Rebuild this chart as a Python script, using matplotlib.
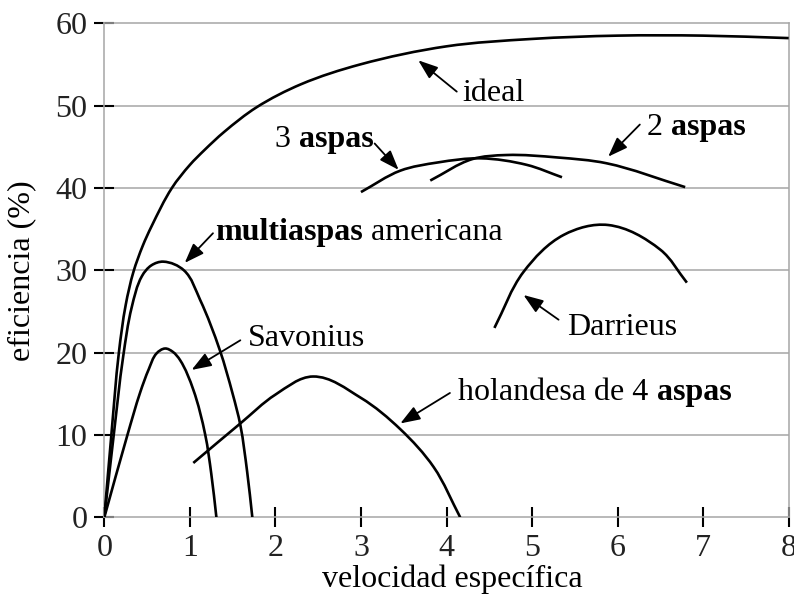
import matplotlib
matplotlib.use("Agg")
import numpy as np
import matplotlib.pyplot as plt
from matplotlib.path import Path
from matplotlib.patches import PathPatch

plt.rcParams["font.family"] = ["Liberation Serif", "DejaVu Serif"]
plt.rcParams["font.size"] = 23

# efficiency curves (tip speed ratio, efficiency %)
ideal_x = [0, 0.082, 0.17, 0.25, 0.34, 0.45, 0.55, 0.79, 1.0, 1.17, 1.4,
           1.78, 2.3, 2.99, 4.0, 5.0, 6.0, 7.0, 8.0]
ideal_y = [0, 10, 20, 25.8, 29.8, 33, 35.3, 40, 42.8, 44.6, 46.8,
           49.8, 52.6, 55.0, 57.2, 58.1, 58.5, 58.5, 58.2]

multi_x = [0, 0.11, 0.22, 0.32, 0.44, 0.55, 0.69, 0.93, 1.12, 1.35, 1.5,
           1.59, 1.67, 1.73]
multi_y = [0, 10, 19.5, 25.5, 29.3, 30.6, 31.05, 30, 26.4, 20.3, 15,
           11.2, 5.5, 0]

savonius_x = [0, 0.27, 0.42, 0.52, 0.61, 0.71, 0.80, 0.885, 1.04, 1.18,
              1.25, 1.31]
savonius_y = [0, 10, 15.2, 18.0, 19.9, 20.5, 20.1, 19.1, 15.5, 10,
              5.3, 0]

dutch_x = [1.04, 1.59, 2.0, 2.44, 3.0, 3.46, 3.85, 4.16]
dutch_y = [6.6, 11.4, 14.9, 17.1, 14.5, 10.7, 6.1, 0]

darrieus_x = [4.56, 4.9, 5.37, 5.89, 6.5, 6.81]
darrieus_y = [23.0, 29.8, 34.3, 35.5, 32.5, 28.5]

three_x = [3.0, 3.46, 3.9, 4.4, 4.94, 5.35]
three_y = [39.5, 42.1, 43.1, 43.6, 42.8, 41.3]

two_x = [3.81, 4.3, 4.7, 5.3, 5.87, 6.79]
two_y = [40.9, 43.5, 44.0, 43.7, 43.0, 40.1]

curves = [(ideal_x, ideal_y), (multi_x, multi_y), (savonius_x, savonius_y),
          (dutch_x, dutch_y), (darrieus_x, darrieus_y), (three_x, three_y),
          (two_x, two_y)]

# labels: (pieces, text position, arrow tail, arrow tip)
labels = [
    ([("ideal", "normal")], (4.19, 50.6), (4.12, 51.7), (3.67, 55.5)),
    ([("3 ", "normal"), ("aspas", "bold")], (1.995, 45.0), (3.16, 45.4), (3.44, 42.2)),
    ([("2 ", "normal"), ("aspas", "bold")], (6.34, 46.4), (6.26, 47.7), (5.89, 43.8)),
    ([("multiaspas", "bold"), (" americana", "normal")], (1.294, 33.7), (1.27, 34.5), (0.94, 30.9)),
    ([("Savonius", "normal")], (1.68, 20.8), (1.59, 21.5), (1.02, 17.9)),
    ([("holandesa de 4 ", "normal"), ("aspas", "bold")], (4.14, 14.2), (4.04, 15.1), (3.46, 11.4)),
    ([("Darrieus", "normal")], (5.405, 22.1), (5.31, 24.0), (4.90, 27.0)),
]

# rough display scale of one data unit, so tangents are not skewed
SX, SY = 85.5, 8.23


def smooth_path(xs, ys):
    """Smooth Bezier curve through the points (tangent = bisector of the
    neighbouring chords, handles a third of each chord)."""
    p = np.column_stack([xs, ys]).astype(float) * [SX, SY]
    n = len(p)
    tang = np.zeros_like(p)
    for i in range(n):
        t = np.zeros(2)
        if i > 0:
            a = p[i] - p[i - 1]
            t += a / np.hypot(*a)
        if i < n - 1:
            b = p[i + 1] - p[i]
            t += b / np.hypot(*b)
        tang[i] = t / np.hypot(*t)
    verts = [p[0]]
    codes = [Path.MOVETO]
    for i in range(n - 1):
        d = np.hypot(*(p[i + 1] - p[i])) / 3
        verts += [p[i] + tang[i] * d, p[i + 1] - tang[i + 1] * d, p[i + 1]]
        codes += [Path.CURVE4] * 3
    verts = np.array(verts) / [SX, SY]
    return Path(verts, codes)


fig = plt.figure(figsize=(7.94, 5.97), dpi=100)
ax = fig.add_axes([0.1314, 0.1335, 0.8619, 0.8275])

grid_color = "#a6a6a6"
for yv in range(10, 60, 10):
    ax.axhline(yv, color=grid_color, lw=1.1, zorder=1)
for s in ax.spines.values():
    s.set_color(grid_color)
    s.set_linewidth(1.1)

for xs, ys in curves:
    ax.add_patch(PathPatch(smooth_path(xs, ys), facecolor="none",
                           edgecolor="black", lw=1.9, capstyle="butt",
                           zorder=3))

for pieces, pos, tail, tip in labels:
    ax.annotate("", xy=tip, xytext=tail,
                arrowprops=dict(arrowstyle="-|>,head_length=0.6,head_width=0.22",
                                mutation_scale=20, lw=1.3, color="black",
                                shrinkA=0, shrinkB=0), zorder=4)
    prev = None
    for txt, weight in pieces:
        if prev is None:
            prev = ax.text(pos[0], pos[1], txt, fontweight=weight,
                           ha="left", va="baseline", zorder=5)
        else:
            prev = ax.annotate(txt, xy=(1, pos[1]), xycoords=(prev, "data"),
                               fontweight=weight, ha="left", va="baseline",
                               zorder=5)

ax.set_xlim(0, 8)
ax.set_ylim(0, 60)
ax.set_xticks(range(0, 9))
ax.set_yticks(range(0, 70, 10))
ax.tick_params(direction="inout", length=14.4, width=1.5, color="black",
               pad=5, labelsize=23, labelcolor="#222222")

ax.set_xlabel("velocidad específica")
ax.set_ylabel("eficiencia (%)")
ax.xaxis.set_label_coords(0.508, -0.095)
ax.yaxis.set_label_coords(-0.10, 0.5)

fig.savefig("out.png", dpi=100)
